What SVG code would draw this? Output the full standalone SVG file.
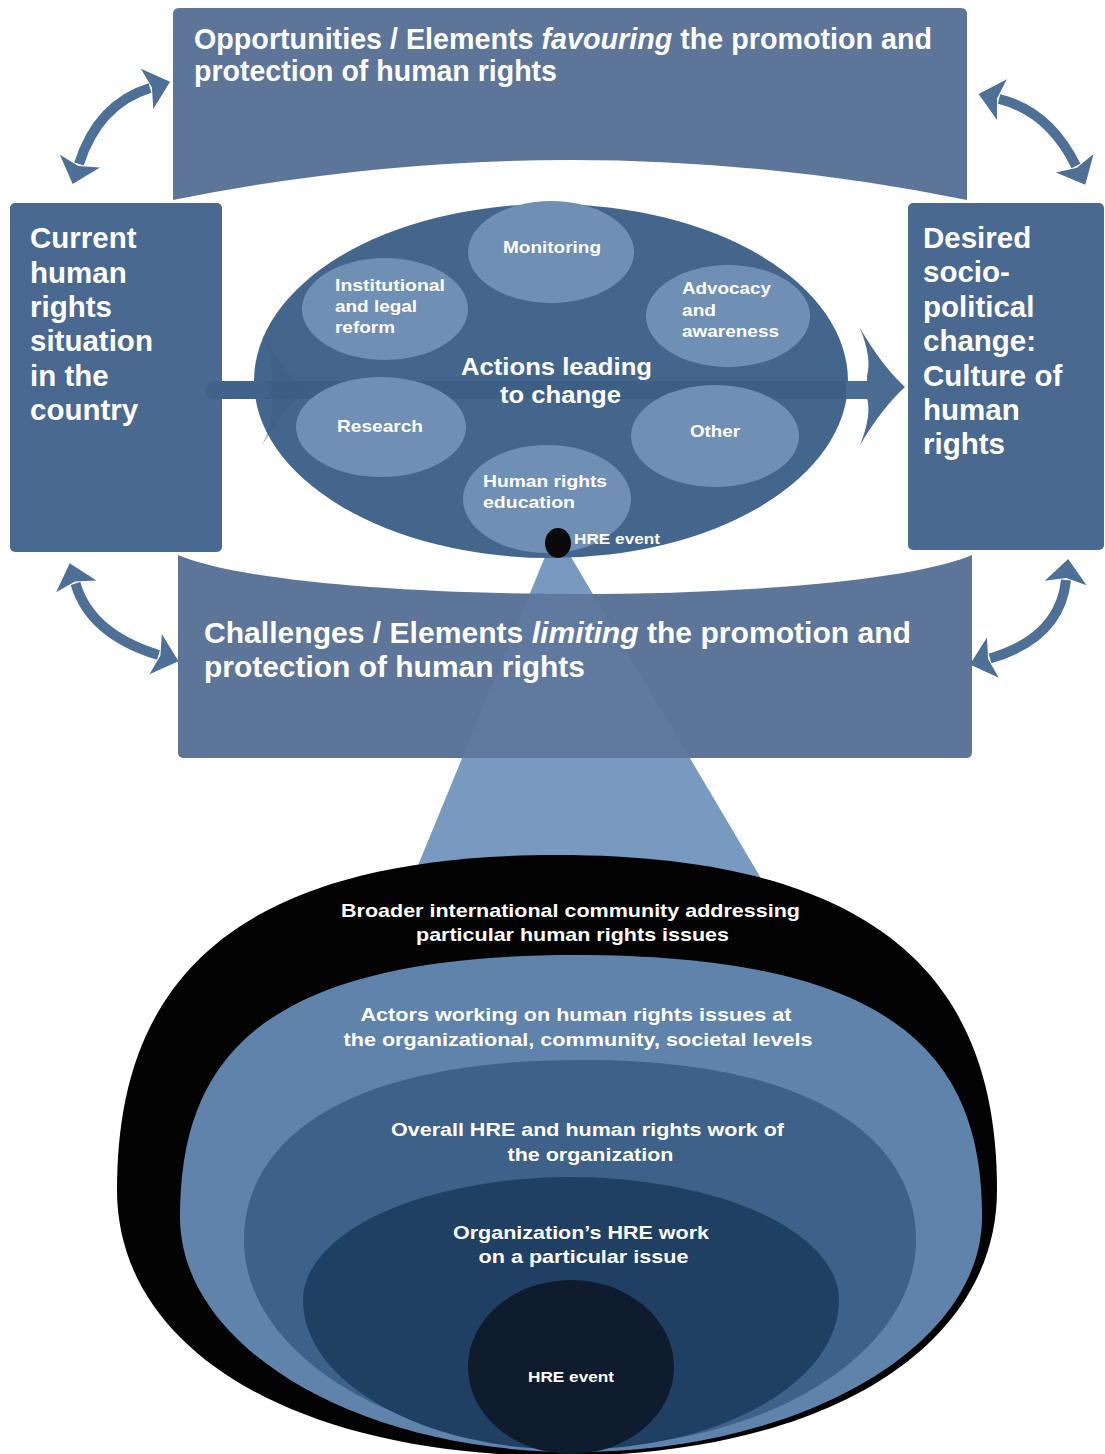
<svg xmlns="http://www.w3.org/2000/svg" width="1105" height="1454" viewBox="0 0 1105 1454">
<defs>
<style>
.t{font-family:"Liberation Sans",Arial,Helvetica,sans-serif;font-weight:bold;fill:#ffffff}
.box{fill:#4a6990}
.ban{fill:#5c7599}
.sub{fill:#6f8fb5}
.arr{fill:none;stroke:#4e7097;stroke-width:10;marker-start:url(#ah);marker-end:url(#ah)}
</style>
<marker id="ah" markerUnits="userSpaceOnUse" viewBox="-2 -23 30 46" markerWidth="30" markerHeight="46" refX="3" refY="0" orient="auto-start-reverse">
<path d="M0,-21 L24,0 L0,21 L5,0 Z" fill="#4e7097"/>
</marker>
</defs>
<rect width="1105" height="1454" fill="#ffffff"/>

<g id="opportunities">
<path class="ban" d="M179,8 H961 Q967,8 967,14 V200 Q570,120 173,200 V14 Q173,8 179,8 Z"/>
<text class="t" font-size="28.7" x="194" y="49" textLength="738" lengthAdjust="spacingAndGlyphs">Opportunities / Elements <tspan font-style="italic">favouring</tspan> the promotion and</text>
<text class="t" font-size="28.7" x="194" y="81" textLength="363" lengthAdjust="spacingAndGlyphs">protection of human rights</text>
</g>

<g id="current">
<rect class="box" x="10" y="203" width="212" height="349" rx="5"/>
<g class="t" font-size="29.5">
<text x="30" y="248">Current</text>
<text x="30" y="282.5">human</text>
<text x="30" y="317">rights</text>
<text x="30" y="351">situation</text>
<text x="30" y="386">in the</text>
<text x="30" y="420">country</text>
</g>
</g>

<g id="desired">
<rect class="box" x="908" y="203" width="196" height="347" rx="5"/>
<g class="t" font-size="29.5">
<text x="923" y="247.5">Desired</text>
<text x="923" y="282">socio-</text>
<text x="923" y="316.5">political</text>
<text x="923" y="351">change:</text>
<text x="923" y="385.5">Culture of</text>
<text x="923" y="420">human</text>
<text x="923" y="454">rights</text>
</g>
</g>

<g id="beam">
<polygon points="547,552 568,552 762,880 412,880" fill="#7899c0"/>
</g>

<g id="challenges">
<path class="ban" d="M178,555 C300,607 850,607 972,555 V752 Q972,758 966,758 H184 Q178,758 178,752 Z"/>
<polygon points="547,552 568,552 762,880 412,880" fill="#7fa0c6" opacity="0.13"/>
<text class="t" font-size="30" x="204" y="643" textLength="707" lengthAdjust="spacingAndGlyphs">Challenges / Elements <tspan font-style="italic">limiting</tspan> the promotion and</text>
<text class="t" font-size="30" x="204" y="677" textLength="381" lengthAdjust="spacingAndGlyphs">protection of human rights</text>
</g>

<g id="actions">
<ellipse cx="551" cy="381" rx="297" ry="177" fill="#44668d"/>
<path d="M262,334 Q285,372 305,390 Q285,408 262,446 Q275,415 272,398 L272,382 Q275,365 262,334 Z" fill="#3b5c83" opacity="0.4"/>
</g>

<g id="connectors">
<line x1="214" y1="390" x2="870" y2="390" stroke="#3a5b82" stroke-width="18" opacity="0.6"/>
<line x1="214" y1="390" x2="262" y2="390" stroke="#41628a" stroke-width="18" stroke-linecap="round"/>
<line x1="846" y1="390" x2="870" y2="390" stroke="#4a6b92" stroke-width="18"/>
<path d="M860,328 Q882,366 905,387 Q882,408 860,445 Q872,415 867,398 L867,376 Q872,358 860,328 Z" fill="#4a6b92"/>
<path class="arr" d="M79,164 Q98,104 150,88"/>
<path class="arr" d="M999,99 Q1049,111 1076,166"/>
<path class="arr" d="M75.5,583.5 Q90,634 158.5,655"/>
<path class="arr" d="M1066,580 Q1060,638 990,658.5"/>
</g>

<g id="monitoring">
<ellipse class="sub" cx="551" cy="252" rx="83" ry="51"/>
<text class="t" font-size="17" x="552" y="253" text-anchor="middle" textLength="98" lengthAdjust="spacingAndGlyphs">Monitoring</text>
</g>
<g id="institutional">
<ellipse class="sub" cx="385" cy="309" rx="83" ry="51"/>
<text class="t" font-size="17" x="335" y="291" textLength="110" lengthAdjust="spacingAndGlyphs">Institutional</text>
<text class="t" font-size="17" x="335" y="312" textLength="82" lengthAdjust="spacingAndGlyphs">and legal</text>
<text class="t" font-size="17" x="335" y="333" textLength="60" lengthAdjust="spacingAndGlyphs">reform</text>
</g>
<g id="advocacy">
<ellipse class="sub" cx="728" cy="316" rx="82" ry="51"/>
<text class="t" font-size="17" x="682" y="294" textLength="89" lengthAdjust="spacingAndGlyphs">Advocacy</text>
<text class="t" font-size="17" x="682" y="316" textLength="34" lengthAdjust="spacingAndGlyphs">and</text>
<text class="t" font-size="17" x="682" y="337" textLength="97" lengthAdjust="spacingAndGlyphs">awareness</text>
</g>
<g id="research">
<ellipse class="sub" cx="381" cy="427" rx="85" ry="50"/>
<text class="t" font-size="17" x="337" y="432" textLength="86" lengthAdjust="spacingAndGlyphs">Research</text>
</g>
<g id="other">
<ellipse class="sub" cx="715" cy="436" rx="84" ry="51"/>
<text class="t" font-size="17" x="690" y="437" textLength="50" lengthAdjust="spacingAndGlyphs">Other</text>
</g>
<g id="hre-education">
<ellipse class="sub" cx="547" cy="499" rx="84" ry="54"/>
<text class="t" font-size="17" x="483" y="487" textLength="124" lengthAdjust="spacingAndGlyphs">Human rights</text>
<text class="t" font-size="17" x="483" y="508" textLength="92" lengthAdjust="spacingAndGlyphs">education</text>
</g>
<g id="actions-label">
<text class="t" font-size="23" x="556.5" y="375" text-anchor="middle" textLength="191" lengthAdjust="spacingAndGlyphs">Actions leading</text>
<text class="t" font-size="23" x="560.5" y="403" text-anchor="middle" textLength="121" lengthAdjust="spacingAndGlyphs">to change</text>
</g>

<g id="hre-event-dot">
<ellipse cx="558" cy="543" rx="13" ry="15" fill="#0a0a0a"/>
<text class="t" font-size="14" x="574" y="544" textLength="86" lengthAdjust="spacingAndGlyphs">HRE event</text>
</g>

<g id="level-international">
<path d="M557,855 C909,855 997,1006 997,1190 C997,1349 822,1456 560,1456 C294,1456 117,1349 117,1190 C117,1006 205,855 557,855 Z" fill="#030303"/>
<text class="t" font-size="19" x="570.5" y="917" text-anchor="middle" textLength="459" lengthAdjust="spacingAndGlyphs">Broader international community addressing</text>
<text class="t" font-size="19" x="572.5" y="941" text-anchor="middle" textLength="313" lengthAdjust="spacingAndGlyphs">particular human rights issues</text>
</g>
<g id="level-actors">
<path d="M575,955 C901,955 982,1060 982,1217 C982,1347 800,1452 575,1452 C357,1452 180,1347 180,1217 C180,1060 259,955 575,955 Z" fill="#5f83ab"/>
<text class="t" font-size="19" x="576" y="1021" text-anchor="middle" textLength="431" lengthAdjust="spacingAndGlyphs">Actors working on human rights issues at</text>
<text class="t" font-size="19" x="578" y="1046" text-anchor="middle" textLength="469" lengthAdjust="spacingAndGlyphs">the organizational, community, societal levels</text>
</g>
<g id="level-organization">
<path d="M582,1060 C832,1060 916,1150 916,1240 C916,1354 765,1447 580,1447 C395,1447 244,1354 244,1240 C244,1150 328,1060 582,1060 Z" fill="#3e6189"/>
<text class="t" font-size="19" x="587.5" y="1136" text-anchor="middle" textLength="393" lengthAdjust="spacingAndGlyphs">Overall HRE and human rights work of</text>
<text class="t" font-size="19" x="590.5" y="1161" text-anchor="middle" textLength="166" lengthAdjust="spacingAndGlyphs">the organization</text>
</g>
<g id="level-issue">
<path d="M303,1300 A268,123 0 0 1 839,1300 A268,150 0 0 1 303,1300 Z" fill="#1f4063"/>
<text class="t" font-size="19" x="581" y="1239" text-anchor="middle" textLength="256" lengthAdjust="spacingAndGlyphs">Organization’s HRE work</text>
<text class="t" font-size="19" x="583.5" y="1263" text-anchor="middle" textLength="210" lengthAdjust="spacingAndGlyphs">on a particular issue</text>
</g>
<g id="level-event">
<ellipse cx="571" cy="1367" rx="103" ry="87" fill="#0e1c2e"/>
<text class="t" font-size="15" x="571" y="1382" text-anchor="middle" textLength="86" lengthAdjust="spacingAndGlyphs">HRE event</text>
</g>
</svg>
